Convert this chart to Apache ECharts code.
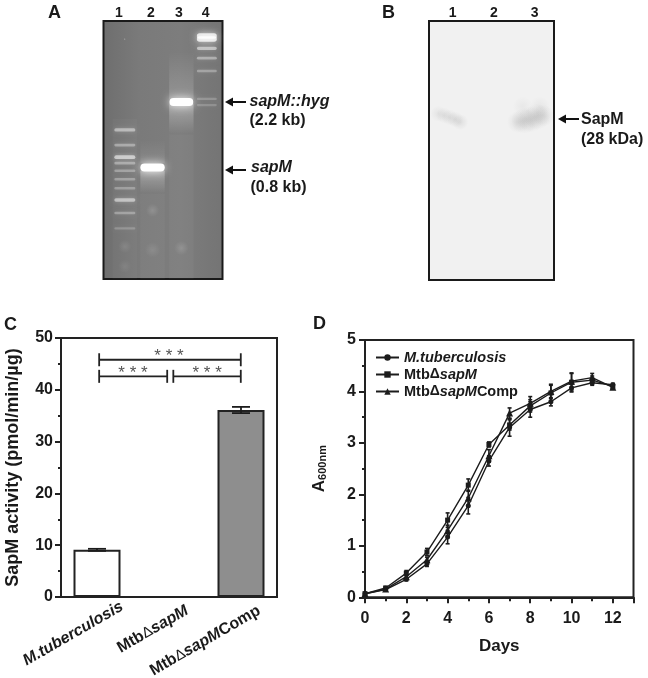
<!DOCTYPE html>
<html>
<head>
<meta charset="utf-8">
<style>
html,body{margin:0;padding:0;background:#fff}
#chart{width:648px;height:678px;filter:blur(0.5px)}
</style>
<script src="https://cdn.jsdelivr.net/npm/echarts@6/dist/echarts.min.js"></script>
</head>
<body>
<div id="chart"></div>
<script>
// Panel A: gel. Lane position, migration distance (0-100 of gel height), intensity (0-1)
const gelLanes = ['1','2','3','4'];
const lane1Migration = [42.2,48.1,52.8,55.1,58,61.3,64.8,69.4,74.4,80.4];
const lane1Intensity = [0.38,0.27,0.52,0.27,0.22,0.22,0.2,0.45,0.22,0.12];
const lane2Migration = [56.8];
const lane2Intensity = [1];
const lane3Migration = [31.4];
const lane3Intensity = [1];
const lane4Migration = [5.8,7,10.6,14.4,19.4,30.2,32.6];
const lane4Intensity = [0.75,0.75,0.45,0.32,0.22,0.12,0.1];
const smudgeLane = [1,2,2,3.04,1,1];
const smudgeMigration = [7,73.4,88.7,88,87.4,95.1];
const smudgeLevel = [0.6,0.14,0.1,0.14,0.1,0.08];
const smudgeSpread = [1.5,11,13,12,11,11];
const smearSpans = [[3.04,12,30.5,0,0.18],[3.04,32,44,0.32,0],[3.04,44,100,0.03,0.03],
                    [2,46,55,0,0.1],[2,58,67,0.3,0],[2,67,100,0.03,0.03],[1,38,100,0.025,0.025]];
// Panel B: blot. Lane position, migration, signal
const blotLanes = ['1','2','3'];
const blotPosition = [0.3,0.48,0.66,0.84,1.0,2.85,3.05,3.25,3.45,3.65,3.0,3.55];
const blotMigration = [35.8,36.4,37.2,38,39,39,38.5,38,37,36.5,33,33];
const blotSignal = [0.1,0.12,0.13,0.14,0.14,0.15,0.17,0.17,0.18,0.17,0.07,0.08];
const blotSpread = [8,8,8,8,8,11,13,13,13,11,10,10];
// Panel C
const activityCategories = ['{i|M.tuberculosis}','Mtb{d|Δ}{i|sapM}','Mtb{d|Δ}{i|sapM}{n|Comp}'];
const activityLabelShift = [29,21,21];
const activityValues = [9.1,0,36.1];
const activityErrors = [0.2,0,0.6];
const bracketSpans = [[0.03,1.997,45.8],[0.03,0.975,42.6],[1.06,1.997,42.6]];
const starMarks = [[1,46.4],[0.5,43.2],[1.53,43.2]];
// Panel D
const days = [0,1,2,3,4,5,6,7,8,9,10,11,12];
const mtbValues = [0.07,0.15,0.35,0.65,1.17,1.78,2.65,3.3,3.65,3.8,4.07,4.17,4.13];
const mtbErrors = [0.02,0.03,0.03,0.05,0.13,0.16,0.1,0.17,0.15,0.08,0.08,0.05,0.03];
const sapMValues = [0.07,0.18,0.47,0.88,1.5,2.18,2.97,3.35,3.72,3.97,4.18,4.22,4.1];
const sapMErrors = [0.02,0.03,0.05,0.07,0.14,0.12,0.05,0.1,0.12,0.15,0.17,0.08,0.03];
const compValues = [0.07,0.16,0.4,0.73,1.3,1.93,2.75,3.58,3.77,4.0,4.2,4.27,4.08];
const compErrors = [0.02,0.03,0.04,0.05,0.1,0.15,0.12,0.1,0.13,0.14,0.16,0.08,0.03];
const seriesNames = ['M.tuberculosis','MtbΔsapM','MtbΔsapMComp'];

const SANS = '"Liberation Sans", Arial, sans-serif';
const INK = '#1c1c1c';

const chart = echarts.init(document.getElementById('chart'), null, {width:648,height:678});

function gelBand(width){
  return function(params, api){
    const p = api.coord([api.value(0), api.value(1)]);
    const i = api.value(2);
    const w = api.size([width,0])[0];
    const h = 2.2 + 5.8*i*i;
    return {type:'rect', shape:{x:p[0]-w/2,y:p[1]-h/2,width:w,height:h,r:h/2},
      style:{fill:'rgba(255,255,255,'+(0.08+0.92*i)+')',shadowBlur:2+7*i,shadowColor:'rgba(255,255,255,'+(0.25+0.65*i)+')'}};
  };
}
function gelSeries(migration,intensity,lane,width){
  return {type:'custom',xAxisIndex:0,yAxisIndex:0,coordinateSystem:'cartesian2d',silent:true,z:3,
    data:migration.map((m,k)=>[lane,m,intensity[k]]),
    encode:{x:0,y:1},
    renderItem:gelBand(width)};
}
function softBlob(rgb,xScale){
  return function(p,api){
    const c=api.coord([api.value(0),api.value(1)]),al=api.value(2),r=api.value(3);
    return {type:'ellipse',shape:{cx:c[0],cy:c[1],rx:r*xScale,ry:r},
      style:{fill:{type:'radial',x:0.5,y:0.5,r:0.5,colorStops:[{offset:0,color:'rgba('+rgb+','+al+')'},{offset:1,color:'rgba('+rgb+',0)'}]}}};
  };
}
function errSeries(x,values,errors,xi,yi,capPx,lw){
  return {type:'custom',xAxisIndex:xi,yAxisIndex:yi,silent:true,z:6,
    data:x.map((d,k)=>[d,values[k],errors[k]]),
    encode:{x:0,y:1},
    renderItem:function(params,api){
      const xv=api.value(0),v=api.value(1),e=api.value(2);
      if(!e) return {type:'group',children:[]};
      const a=api.coord([xv,v+e]),b=api.coord([xv,v-e]);
      const st={stroke:INK,lineWidth:lw};
      return {type:'group',children:[
        {type:'line',shape:{x1:a[0],y1:a[1],x2:b[0],y2:b[1]},style:st},
        {type:'line',shape:{x1:a[0]-capPx,y1:a[1],x2:a[0]+capPx,y2:a[1]},style:st},
        {type:'line',shape:{x1:b[0]-capPx,y1:b[1],x2:b[0]+capPx,y2:b[1]},style:st}
      ]};
    }};
}
function lineSeries(name,values,symbol,size){
  return {type:'line',name:name,xAxisIndex:4,yAxisIndex:3,data:days.map((d,k)=>[d,values[k]]),
    symbol:symbol,symbolSize:size,showSymbol:true,lineStyle:{color:INK,width:1.4},itemStyle:{color:INK},z:5,silent:true,animation:false};
}
function txt(x,y,text,font,extra){
  return {type:'text',x:x,y:y,silent:true,z:20,style:Object.assign({text:text,font:font,fill:'#1a1a1a',verticalAlign:'middle',align:'left'},extra||{})};
}
function arrow(x1,x2,y){
  return [
    {type:'line',silent:true,z:20,shape:{x1:x1+5,y1:y,x2:x2,y2:y},style:{stroke:'#111',lineWidth:2}},
    {type:'polygon',silent:true,z:20,shape:{points:[[x1,y],[x1+8,y-4.5],[x1+8,y+4.5]]},style:{fill:'#111'}}
  ];
}
const B16='bold 16px '+SANS, BI16='italic bold 16px '+SANS, B14='bold 14px '+SANS, B17='bold 18px '+SANS;
const graphics = [
  txt(48,13,'A',B17), txt(382,13,'B',B17), txt(4,325,'C',B17), txt(313,324,'D',B17),
  txt(119,13,gelLanes[0],B14,{align:'center'}),txt(151,13,gelLanes[1],B14,{align:'center'}),
  txt(179,13,gelLanes[2],B14,{align:'center'}),txt(205.6,13,gelLanes[3],B14,{align:'center'}),
  txt(452.7,13,blotLanes[0],B14,{align:'center'}),txt(494,13,blotLanes[1],B14,{align:'center'}),txt(534.7,13,blotLanes[2],B14,{align:'center'}),
  txt(249.5,102,'sapM::hyg',BI16), txt(249.5,121,'(2.2 kb)',B16),
  txt(251,168,'sapM',BI16), txt(250.5,188,'(0.8 kb)',B16),
  txt(581,120,'SapM',B16), txt(581,140,'(28 kDa)',B16)
].concat(arrow(225,246,102),arrow(225,246,170),arrow(558,579,119));

const hidden = {show:false};
const axisBase = {axisLine:{onZero:false,lineStyle:{color:'#222',width:2}},splitLine:{show:false},
  axisTick:{length:6,lineStyle:{color:'#222',width:2}}};
const option = {
  animation:false,
  backgroundColor:'#fff',
  textStyle:{fontFamily:SANS},
  graphic:graphics,
  grid:[
    {left:103.5,top:21,width:119,height:258,outerBoundsMode:'none',show:true,borderColor:'#1a1a1a',borderWidth:2,
      backgroundColor:{type:'linear',x:0,y:0,x2:1,y2:0,colorStops:[{offset:0,color:'#6e6e6e'},{offset:0.3,color:'#7a7a7a'},{offset:0.65,color:'#7d7d7d'},{offset:1,color:'#747474'}]}},
    {left:429,top:21,width:125,height:259,outerBoundsMode:'none',show:true,borderColor:'#1a1a1a',borderWidth:2,backgroundColor:'#f1f1f1'},
    {left:61,top:338,width:216,height:259,outerBoundsMode:'none',show:true,borderColor:'#222',borderWidth:2,backgroundColor:'#fff'},
    {left:365,top:340,width:268.5,height:257.3,outerBoundsMode:'none',show:true,borderColor:'#222',borderWidth:2,backgroundColor:'#fff'}
  ],
  xAxis:[
    Object.assign({type:'value',gridIndex:0,min:0.23,max:4.525},hidden),
    Object.assign({type:'value',gridIndex:1,min:0,max:4},hidden),
    Object.assign({},axisBase,{type:'category',gridIndex:2,
      data:activityCategories.map((c,k)=>({value:c,textStyle:{padding:[0,-activityLabelShift[k],0,0]}})),
      axisTick:{length:6,alignWithLabel:true,lineStyle:{color:'#222',width:2}},
      axisLabel:{interval:0,rotate:30,align:'right',verticalAlign:'top',margin:23,
        color:'#1a1a1a',fontFamily:SANS,fontSize:16,fontWeight:'bold',
        rich:{i:{fontStyle:'italic',fontWeight:'bold',fontSize:16,fontFamily:SANS,color:'#1a1a1a'},
              n:{fontWeight:'bold',fontSize:16,fontFamily:SANS,color:'#1a1a1a'},
              d:{fontWeight:'normal',fontSize:15,fontFamily:SANS,color:'#1a1a1a'}}}}),
    Object.assign({type:'value',gridIndex:2,min:-0.5,max:2.5},hidden),
    Object.assign({},axisBase,{type:'value',gridIndex:3,min:0,max:13,interval:2,
      minorTick:{show:true,splitNumber:2,length:4,lineStyle:{color:'#222',width:2}},
      axisLabel:{margin:13,showMaxLabel:false,color:'#1a1a1a',fontFamily:SANS,fontSize:16,fontWeight:'bold'},
      name:'Days',nameLocation:'middle',nameGap:41,nameTextStyle:{fontFamily:SANS,fontSize:17,fontWeight:'bold',color:'#1a1a1a'}})
  ],
  yAxis:[
    Object.assign({type:'value',gridIndex:0,min:0,max:100,inverse:true},hidden),
    Object.assign({type:'value',gridIndex:1,min:0,max:100,inverse:true},hidden),
    Object.assign({},axisBase,{type:'value',gridIndex:2,min:0,max:50,interval:10,
      minorTick:{show:true,splitNumber:2,length:3,lineStyle:{color:'#222',width:2}},
      axisLabel:{margin:8,color:'#1a1a1a',fontFamily:SANS,fontSize:16,fontWeight:'bold'},
      name:'SapM activity (pmol/min/µg)',nameLocation:'middle',nameGap:39,
      nameTextStyle:{fontFamily:SANS,fontSize:18,color:'#1a1a1a',fontWeight:'bold'}}),
    Object.assign({},axisBase,{type:'value',gridIndex:3,min:0,max:5,interval:1,
      minorTick:{show:true,splitNumber:2,length:3,lineStyle:{color:'#222',width:2}},
      axisLabel:{margin:9,color:'#1a1a1a',fontFamily:SANS,fontSize:16,fontWeight:'bold'},
      name:'A{s|600nm}',nameLocation:'middle',nameGap:37,
      nameTextStyle:{fontFamily:SANS,fontSize:17,fontWeight:'bold',color:'#1a1a1a',
        rich:{s:{fontSize:11,fontWeight:'bold',fontFamily:SANS,color:'#1a1a1a',verticalAlign:'bottom',padding:[5,0,0,0]}}}})
  ],
  legend:{show:true,orient:'vertical',left:375,top:350,padding:0,itemWidth:23,itemHeight:8,itemGap:2,
    data:seriesNames,selectedMode:false,
    formatter:function(n){
      if(n===seriesNames[0]) return '{i|M.tuberculosis}';
      if(n===seriesNames[1]) return 'Mtb{d|Δ}{i|sapM}';
      return 'Mtb{d|Δ}{i|sapM}{b|Comp}';
    },
    textStyle:{fontFamily:SANS,fontSize:14.5,fontWeight:'bold',color:'#1a1a1a',
      rich:{i:{fontStyle:'italic',fontWeight:'bold',fontSize:14.5,fontFamily:SANS,color:'#1a1a1a'},
            b:{fontWeight:'bold',fontSize:14.5,fontFamily:SANS,color:'#1a1a1a'},
            d:{fontSize:14,fontFamily:SANS,color:'#1a1a1a'}}}},
  series:[
    // gel lane smears
    {type:'custom',xAxisIndex:0,yAxisIndex:0,silent:true,z:2,
      data:smearSpans,encode:{x:0,y:1},
      renderItem:function(p,api){
        const a=api.coord([api.value(0),api.value(1)]),b=api.coord([api.value(0),api.value(2)]);
        const w=api.size([0.88,0])[0],t=api.value(3),u=api.value(4);
        return {type:'rect',shape:{x:a[0]-w/2,y:a[1],width:w,height:b[1]-a[1]},
          style:{fill:{type:'linear',x:0,y:0,x2:0,y2:1,colorStops:[{offset:0,color:'rgba(255,255,255,'+t+')'},{offset:1,color:'rgba(255,255,255,'+u+')'}]}}};
      }},
    {type:'custom',xAxisIndex:0,yAxisIndex:0,silent:true,z:2,
      data:smudgeLane.map((l,k)=>[l,smudgeMigration[k],smudgeLevel[k],smudgeSpread[k]]),
      encode:{x:0,y:1},
      renderItem:function(p,api){
        const c=api.coord([api.value(0),api.value(1)]),al=api.value(2),r=api.value(3);
        return {type:'ellipse',shape:{cx:c[0],cy:c[1],rx:r*1.4,ry:r*0.6},
          style:{fill:{type:'radial',x:0.5,y:0.5,r:0.5,colorStops:[{offset:0,color:'rgba(255,255,255,'+al+')'},{offset:1,color:'rgba(255,255,255,0)'}]}}};
      }},
    gelSeries(lane1Migration,lane1Intensity,1,0.76),
    gelSeries(lane2Migration,lane2Intensity,2,0.88),
    gelSeries(lane3Migration,lane3Intensity,3.04,0.86),
    gelSeries(lane4Migration,lane4Intensity,3.96,0.72),
    // blot smudges
    {type:'custom',xAxisIndex:1,yAxisIndex:1,silent:true,z:3,
      data:blotPosition.map((x,k)=>[x,blotMigration[k],blotSignal[k],blotSpread[k]]),
      encode:{x:0,y:1},
      renderItem:softBlob('110,110,110',1.1)},
    // panel C
    {type:'bar',xAxisIndex:2,yAxisIndex:2,barWidth:47,silent:true,z:3,
      data:activityValues.map((v,k)=>({value:v,itemStyle:{color:k===2?'#8e8e8e':'#ffffff',borderColor:'#222',borderWidth:v?2:0}}))},
    errSeries([0,1,2],activityValues,activityErrors,2,2,9,1.8),
    {type:'custom',xAxisIndex:3,yAxisIndex:2,silent:true,z:6,
      data:bracketSpans,encode:{x:[0,1],y:2},
      renderItem:function(p,api){
        const a=api.coord([api.value(0),api.value(2)]),b=api.coord([api.value(1),api.value(2)]);
        const st={stroke:'#222',lineWidth:1.8},t=6.5;
        return {type:'group',children:[
          {type:'line',shape:{x1:a[0],y1:a[1],x2:b[0],y2:b[1]},style:st},
          {type:'line',shape:{x1:a[0],y1:a[1]-t,x2:a[0],y2:a[1]+t},style:st},
          {type:'line',shape:{x1:b[0],y1:b[1]-t,x2:b[0],y2:b[1]+t},style:st}
        ]};
      }},
    {type:'custom',xAxisIndex:3,yAxisIndex:2,silent:true,z:6,
      data:starMarks,encode:{x:0,y:1},
      renderItem:function(p,api){
        const c=api.coord([api.value(0),api.value(1)]);
        return {type:'text',x:c[0],y:c[1],style:{text:'* * *',fill:'#555',align:'center',verticalAlign:'middle',font:'17px '+SANS}};
      }},
    // panel D
    lineSeries(seriesNames[0],mtbValues,'circle',5),
    lineSeries(seriesNames[1],sapMValues,'rect',5),
    lineSeries(seriesNames[2],compValues,'triangle',7),
    errSeries(days,mtbValues,mtbErrors,4,3,2,1.6),
    errSeries(days,sapMValues,sapMErrors,4,3,2,1.6),
    errSeries(days,compValues,compErrors,4,3,2,1.6)
  ]
};
chart.setOption(option);
</script>
</body>
</html>
